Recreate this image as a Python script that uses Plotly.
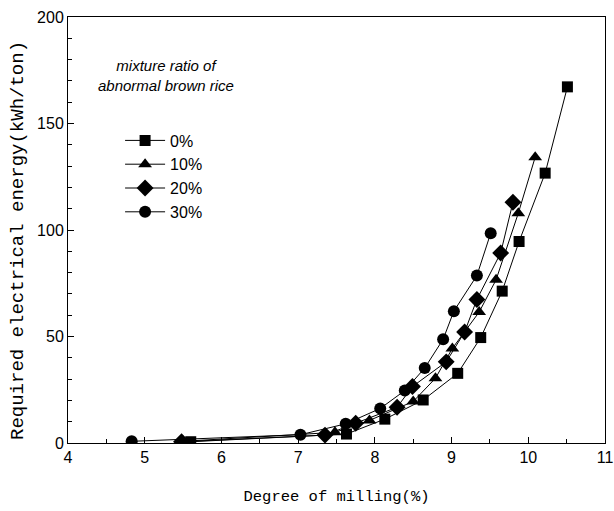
import plotly.graph_objects as go

series_names = ["0%", "10%", "20%", "30%"]
symbols = ["square", "triangle-up", "diamond", "circle"]

x_0 = [5.60, 7.63, 8.13, 8.63, 9.08, 9.38, 9.66, 9.88, 10.22, 10.51]
y_0 = [0.6, 4.2, 11.2, 20.2, 32.7, 49.5, 71.3, 94.6, 126.7, 167.2]

x_10 = [5.50, 7.48, 7.93, 8.50, 8.79, 9.01, 9.36, 9.58, 9.87, 10.09]
y_10 = [0.8, 5.0, 10.6, 19.5, 30.4, 44.4, 61.5, 76.6, 107.9, 134.2]

x_20 = [5.48, 7.35, 7.75, 8.29, 8.49, 8.93, 9.17, 9.33, 9.64, 9.80]
y_20 = [0.6, 3.7, 9.3, 16.8, 26.5, 38.1, 52.1, 67.4, 89.2, 113.0]

x_30 = [4.83, 7.03, 7.62, 8.07, 8.39, 8.65, 8.89, 9.03, 9.33, 9.51]
y_30 = [0.8, 3.9, 9.0, 16.2, 24.6, 35.2, 48.7, 61.9, 78.6, 98.5]

xs = [x_0, x_10, x_20, x_30]
ys = [y_0, y_10, y_20, y_30]
sizes = [11, 12, 13, 12]

x_ticks = [4, 5, 6, 7, 8, 9, 10, 11]
y_ticks = [0, 50, 100, 150, 200]

fig = go.Figure()
for name, sym, x, y, s in zip(series_names, symbols, xs, ys, sizes):
    fig.add_trace(go.Scatter(
        x=x, y=y, name=name, mode="lines+markers",
        line=dict(color="black", width=1),
        marker=dict(symbol=sym, size=s, color="black"),
    ))

axis_common = dict(
    showline=True, linecolor="black", linewidth=1, mirror=True,
    ticks="inside", ticklen=6, tickcolor="black",
    showgrid=False, zeroline=False, automargin=False,
    tickfont=dict(family="Liberation Sans, Arial", size=16, color="black"),
)

fig.update_layout(
    width=614, height=511,
    margin=dict(l=68, r=9, t=17, b=68),
    paper_bgcolor="white", plot_bgcolor="white",
    xaxis=dict(range=[4, 11], tickvals=x_ticks,
               minor=dict(ticks="inside", ticklen=4, dtick=0.5, tickcolor="black"),
               title=dict(text="Degree of milling(%)", standoff=24,
                          font=dict(family="Liberation Mono, Courier New", size=15.5, color="black")),
               **axis_common),
    yaxis=dict(range=[0, 200], tickvals=y_ticks,
               minor=dict(ticks="inside", ticklen=4, dtick=10, tickcolor="black"),
               **axis_common),
    showlegend=True,
    legend=dict(x=0.097, y=0.75, xanchor="left", yanchor="top",
                bgcolor="rgba(0,0,0,0)", borderwidth=0,
                font=dict(family="Liberation Sans, Arial", size=16, color="black"),
                itemwidth=40, tracegroupgap=0),
    annotations=[
        dict(text="<i>mixture ratio of<br>abnormal brown rice</i>",
             xref="paper", yref="paper", x=0.183, y=0.863, xanchor="center", yanchor="middle",
             showarrow=False, align="center",
             font=dict(family="Liberation Sans, Arial", size=15, color="black")),
        dict(text="Required electrical energy(kWh/ton)",
             xref="paper", yref="paper", x=0, y=0.5, xanchor="center", yanchor="middle",
             xshift=-50, yshift=-11, textangle=-90, showarrow=False,
             font=dict(family="Liberation Mono, Courier New", size=19, color="black")),
    ],
)

fig.write_html("out.html",
               config={"displayModeBar": False},
               post_script="document.body.style.margin='0';document.body.style.overflow='hidden';")
